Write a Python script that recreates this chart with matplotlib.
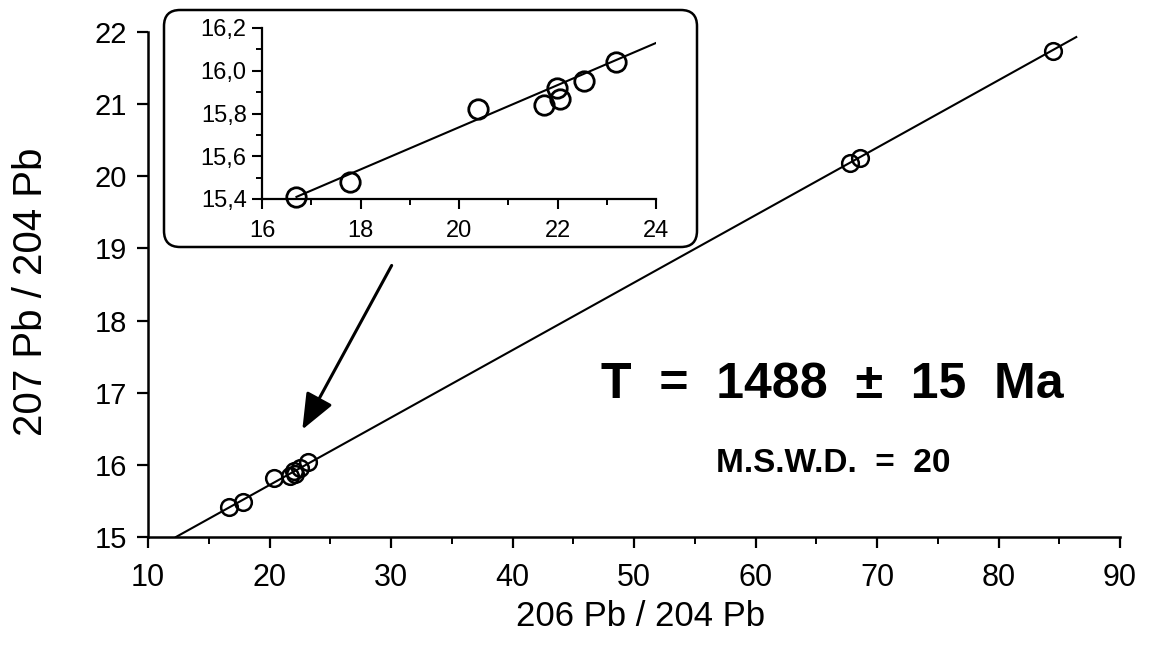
import matplotlib
matplotlib.use('Agg')
import matplotlib.pyplot as plt
from matplotlib.patches import FancyBboxPatch
from matplotlib.ticker import MultipleLocator, FuncFormatter

plt.rcParams['font.family'] = ['Liberation Sans', 'DejaVu Sans']

# 数据点 206Pb/204Pb - 207Pb/204Pb
pb206 = [16.70, 17.79, 20.39, 21.72, 21.98, 22.06, 22.54, 23.19, 67.8, 68.6, 84.5]
pb207 = [15.41, 15.48, 15.82, 15.84, 15.92, 15.87, 15.95, 16.04, 20.18, 20.25, 21.73]

# 等时线端点
fit_x = [12.3, 86.4]
fit_y = [15.0, 21.93]
inset_fit_x = [16.7, 24.0]
inset_fit_y = [15.41, 16.13]

W, H = 1149, 645
fig = plt.figure(figsize=(W / 100, H / 100), dpi=100)

# 主图
ax = fig.add_axes([148 / W, 1 - 537 / H, 972 / W, 505 / H], zorder=0)
ax.patch.set_alpha(0)
ax.plot(fit_x, fit_y, color='black', lw=1.5, zorder=2)
ax.plot(pb206, pb207, 'o', ms=12, mfc='none', mec='black', mew=1.8, zorder=3)
ax.set_xlim(10, 90)
ax.set_ylim(15, 22)
ax.xaxis.set_major_locator(MultipleLocator(10))
ax.xaxis.set_minor_locator(MultipleLocator(5))
ax.yaxis.set_major_locator(MultipleLocator(1))
for s in ['top', 'right']:
    ax.spines[s].set_visible(False)
for s in ['left', 'bottom']:
    ax.spines[s].set_linewidth(1.8)
ax.tick_params(which='major', direction='out', length=8, width=1.6)
ax.tick_params(which='minor', direction='out', length=5, width=1.4)
ax.tick_params(axis='x', pad=11, labelsize=22)
ax.tick_params(axis='y', pad=7, labelsize=21)
ax.set_xlabel('206 Pb / 204 Pb', fontsize=25)
ax.xaxis.set_label_coords((641 - 148) / 972, (537 - 600) / 505)
ax.set_ylabel('207 Pb / 204 Pb', fontsize=29)
ax.yaxis.set_label_coords((50 - 148) / 972, (537 - 292) / 505)

# 年龄文字
fig.text(832 / W, 1 - 385 / H, 'T  =  1488  \u00b1  15  Ma', fontsize=36,
         fontweight='bold', ha='center', va='center')
fig.text(833 / W, 1 - 463 / H, 'M.S.W.D.  =  20', fontsize=24,
         fontweight='bold', ha='center', va='center')

# 箭头
ax.annotate('', xy=(301, H - 432), xycoords='figure pixels',
            xytext=(393, H - 263), textcoords='figure pixels',
            arrowprops=dict(arrowstyle='-|>,head_length=1.1,head_width=0.45',
                            mutation_scale=20, lw=2.2, color='black'))

# 圆角框
box = FancyBboxPatch((164 / W, 1 - 247 / H), (697 - 164) / W, (247 - 10) / H,
                     boxstyle='round,pad=0,rounding_size=0.014',
                     mutation_aspect=W / H, transform=fig.transFigure,
                     fc='white', ec='black', lw=1.8, zorder=1)
fig.add_artist(box)

# 插图
axin = fig.add_axes([262 / W, 1 - 199 / H, 394 / W, 171 / H], zorder=2)
axin.patch.set_alpha(0)
axin.plot(inset_fit_x, inset_fit_y, color='black', lw=1.5, zorder=2)
axin.plot(pb206[:8], pb207[:8], 'o', ms=14, mfc='none', mec='black', mew=2, zorder=3,
          clip_on=False)
axin.set_xlim(16, 24)
axin.set_ylim(15.4, 16.2)
axin.xaxis.set_major_locator(MultipleLocator(2))
axin.xaxis.set_minor_locator(MultipleLocator(1))
axin.yaxis.set_major_locator(MultipleLocator(0.2))
axin.yaxis.set_minor_locator(MultipleLocator(0.1))
axin.yaxis.set_major_formatter(FuncFormatter(lambda v, p: f'{v:.1f}'.replace('.', ',')))
for s in ['top', 'right']:
    axin.spines[s].set_visible(False)
for s in ['left', 'bottom']:
    axin.spines[s].set_linewidth(1.6)
axin.tick_params(which='major', direction='out', length=7, width=1.5, labelsize=17)
axin.tick_params(which='minor', direction='out', length=4, width=1.4)
axin.tick_params(axis='x', pad=8)
axin.tick_params(axis='y', pad=4)

plt.savefig('out.png', dpi=100)
